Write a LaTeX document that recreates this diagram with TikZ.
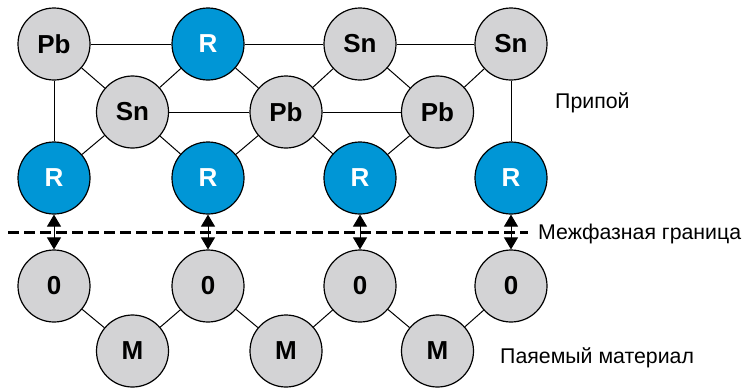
\documentclass[tikz,border=0pt]{standalone}
\usepackage{fontspec}
\setmainfont{Liberation Sans}
\usetikzlibrary{arrows.meta}
\definecolor{atomgray}{RGB}{211,211,213}
\definecolor{atomblue}{RGB}{0,150,214}
\begin{document}
\begin{tikzpicture}[x=1pt,y=-1pt,
  atom/.style={circle, draw=black, line width=1.2pt, minimum size=72pt,
    inner sep=0pt, fill=atomgray, font=\fontsize{26}{26}\selectfont\bfseries},
  ratom/.style={atom, fill=atomblue, text=white},
  bond/.style={line width=1pt},
  link/.style={line width=1pt,
    {Triangle[length=12pt,width=14pt]}-{Triangle[length=12pt,width=14pt]}},
  lbl/.style={font=\fontsize{21.3}{21.3}\selectfont, anchor=base west, inner sep=0pt}]
\useasboundingbox (0,0) rectangle (743,389);

% solder: top row
\node[atom]  (t1) at (54,44)  {Pb};
\node[ratom] (t2) at (208,44) {R};
\node[atom]  (t3) at (360,44) {Sn};
\node[atom]  (t4) at (511,44) {Sn};
% solder: middle row
\node[atom] (m1) at (132.5,112) {Sn};
\node[atom] (m2) at (286,112)   {Pb};
\node[atom] (m3) at (437.5,112) {Pb};
% solder: bottom row (reactive atoms)
\node[ratom] (r1) at (54,178)  {R};
\node[ratom] (r2) at (208,178) {R};
\node[ratom] (r3) at (360,178) {R};
\node[ratom] (r4) at (511,178) {R};
% base material
\node[atom] (o1) at (54,286)  {0};
\node[atom] (o2) at (208,286) {0};
\node[atom] (o3) at (360,286) {0};
\node[atom] (o4) at (511,286) {0};
\node[atom] (b1) at (132.5,351) {M};
\node[atom] (b2) at (286,351)   {M};
\node[atom] (b3) at (437.5,351) {M};

% bonds in the solder
\draw[bond] (t1) -- (t2);
\draw[bond] (t2) -- (t3);
\draw[bond] (t3) -- (t4);
\draw[bond] (t1) -- (r1);
\draw[bond] (t4) -- (r4);
\draw[bond] (t1) -- (m1);
\draw[bond] (m1) -- (t2);
\draw[bond] (t2) -- (m2);
\draw[bond] (m2) -- (t3);
\draw[bond] (t3) -- (m3);
\draw[bond] (m3) -- (t4);
\draw[bond] (m1) -- (m2);
\draw[bond] (m2) -- (m3);
\draw[bond] (m1) -- (r1);
\draw[bond] (m1) -- (r2);
\draw[bond] (m2) -- (r2);
\draw[bond] (m2) -- (r3);
\draw[bond] (m3) -- (r3);

% bonds in the base material
\draw[bond] (o1) -- (b1);
\draw[bond] (b1) -- (o2);
\draw[bond] (o2) -- (b2);
\draw[bond] (b2) -- (o3);
\draw[bond] (o3) -- (b3);
\draw[bond] (b3) -- (o4);

% labels
\node[lbl] (solder) at (555,108) {Припой};
\node[lbl] (iface)  at (538,239) {Межфазная граница};
\node[lbl] (base)   at (500,363) {Паяемый материал};

% interface line
\coordinate (dashL) at (8,232);
\coordinate (dashR) at (528,232);
\draw[line width=3pt, dash pattern=on 11pt off 5pt] (dashL) -- (dashR);

% interactions across the interface
\draw[link] (r1) -- (o1);
\draw[link] (r2) -- (o2);
\draw[link] (r3) -- (o3);
\draw[link] (r4) -- (o4);
\end{tikzpicture}
\end{document}
